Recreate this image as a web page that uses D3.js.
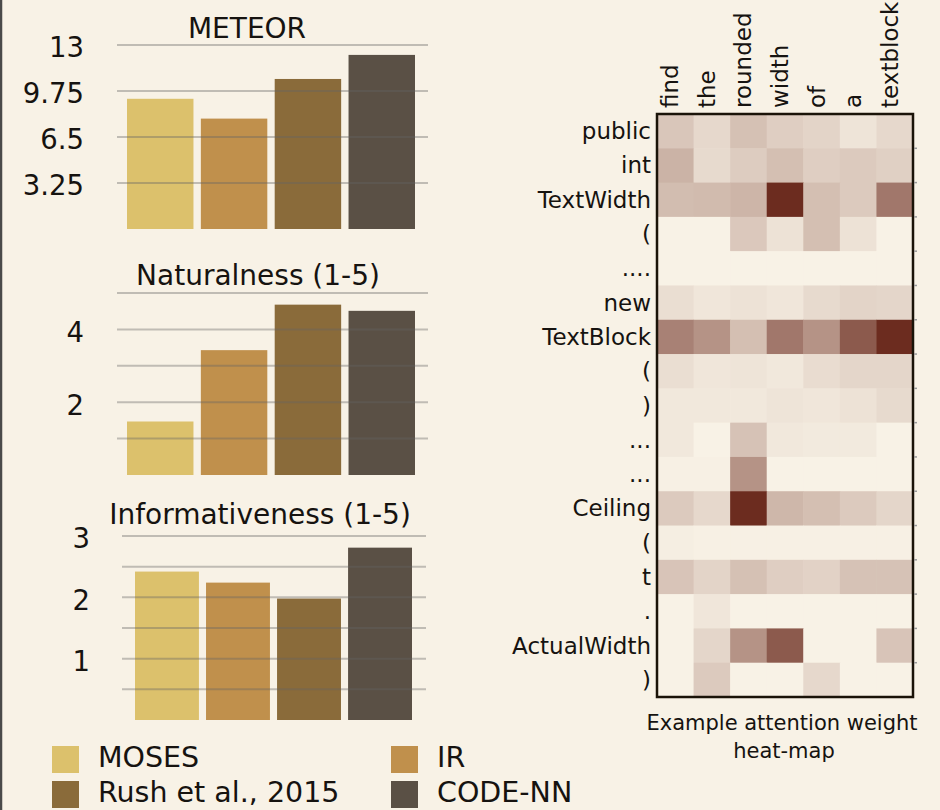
<!DOCTYPE html>
<html>
<head>
<meta charset="utf-8">
<script src="https://d3js.org/d3.v7.min.js"></script>
<style>
  body { margin: 0; background: #f8f2e6; }
  svg { display: block; }
  text { font-family: 'DejaVu Sans', sans-serif; fill: #161310; }
</style>
</head>
<body>
<svg width="940" height="810"></svg>
<script>
// bar chart data
const methods = ['MOSES', 'IR', 'Rush et al., 2015', 'CODE-NN'];
const methodColors = ['#dcc16c', '#c0904c', '#8a6b3a', '#5a5045'];
const meteor = [9.2, 7.8, 10.6, 12.3];
const naturalness = [1.47, 3.43, 4.68, 4.51];
const informativeness = [2.42, 2.24, 1.98, 2.81];

const meteorGrid = [3.25, 6.5, 9.75, 13];
const meteorLabels = [3.25, 6.5, 9.75, 13];
const naturalGrid = [1, 2, 3, 4, 5];
const naturalLabels = [2, 4];
const informGrid = [0.5, 1, 1.5, 2, 2.5, 3];
const informLabels = [1, 2, 3];

// heat-map data
const nlWords = ['find', 'the', 'rounded', 'width', 'of', 'a', 'textblock'];
const codeTokens = ['public', 'int', 'TextWidth', '(', '....', 'new', 'TextBlock', '(', ')',
  '...', '...', 'Ceiling', '(', 't', '.', 'ActualWidth', ')'];
const attention = [
  [0.22, 0.13, 0.25, 0.18, 0.15, 0.07, 0.13],
  [0.32, 0.12, 0.19, 0.26, 0.18, 0.20, 0.17],
  [0.27, 0.28, 0.31, 1.00, 0.26, 0.20, 0.62],
  [0.00, 0.00, 0.21, 0.08, 0.26, 0.08, 0.00],
  [0.00, 0.00, 0.00, 0.00, 0.00, 0.00, 0.00],
  [0.10, 0.06, 0.08, 0.06, 0.12, 0.15, 0.14],
  [0.57, 0.48, 0.26, 0.62, 0.48, 0.77, 1.00],
  [0.10, 0.06, 0.07, 0.05, 0.11, 0.14, 0.14],
  [0.05, 0.05, 0.05, 0.07, 0.06, 0.08, 0.12],
  [0.05, 0.00, 0.24, 0.05, 0.04, 0.04, 0.00],
  [0.01, 0.01, 0.48, 0.00, 0.00, 0.00, 0.00],
  [0.20, 0.13, 1.00, 0.30, 0.26, 0.20, 0.14],
  [0.02, 0.01, 0.01, 0.01, 0.01, 0.01, 0.01],
  [0.23, 0.15, 0.25, 0.18, 0.16, 0.24, 0.24],
  [0.00, 0.06, 0.00, 0.00, 0.00, 0.00, 0.00],
  [0.00, 0.14, 0.48, 0.77, 0.00, 0.00, 0.23],
  [0.00, 0.20, 0.00, 0.00, 0.13, 0.00, 0.00]
];

const svg = d3.select('svg');

svg.append('rect').
  attr('width', 940).
  attr('height', 810).
  attr('fill', '#f8f2e6');

// thin frame line on the left edge
svg.append('line').
  attr('x1', 1).attr('x2', 1).
  attr('y1', 0).attr('y2', 810).
  attr('stroke', '#4a4a4a').
  attr('stroke-width', 2.5);

function drawPanel(p) {
  const x = d3.scaleBand().
    domain(methods).
    range(p.barRange).
    paddingInner(0.1);

  const y = d3.scaleLinear().
    domain(p.domain).
    range(p.yRange);

  const g = svg.append('g').attr('class', 'panel');

  g.append('g').
    selectAll('rect').
    data(p.values).
    enter().append('rect').
    attr('x', (d, i) => x(methods[i])).
    attr('y', d => y(d)).
    attr('width', x.bandwidth()).
    attr('height', d => y(0) - y(d)).
    attr('fill', (d, i) => methodColors[i]);

  g.append('g').
    selectAll('line').
    data(p.grid).
    enter().append('line').
    attr('x1', p.gridRange[0]).
    attr('x2', p.gridRange[1]).
    attr('y1', d => y(d)).
    attr('y2', d => y(d)).
    attr('stroke', '#646464').
    attr('stroke-opacity', 0.38).
    attr('stroke-width', 2);

  g.append('g').
    selectAll('text').
    data(p.labels).
    enter().append('text').
    attr('x', p.labelX).
    attr('y', d => y(d)).
    attr('dy', '0.45em').
    attr('text-anchor', 'end').
    attr('font-size', 27.5).
    text(d => d);

  g.append('text').
    attr('x', p.titleX).
    attr('y', p.titleY).
    attr('text-anchor', 'middle').
    attr('font-size', 28).
    text(p.title);
}

drawPanel({
  title: 'METEOR', titleX: 247, titleY: 38,
  values: meteor, grid: meteorGrid, labels: meteorLabels,
  domain: [0, 13], yRange: [229, 45],
  barRange: [127, 415], gridRange: [117, 428], labelX: 84
});

drawPanel({
  title: 'Naturalness (1-5)', titleX: 258, titleY: 285,
  values: naturalness, grid: naturalGrid, labels: naturalLabels,
  domain: [0, 5], yRange: [475, 293],
  barRange: [127, 415], gridRange: [117, 428], labelX: 84
});

drawPanel({
  title: 'Informativeness (1-5)', titleX: 260, titleY: 524,
  values: informativeness, grid: informGrid, labels: informLabels,
  domain: [0, 3], yRange: [720, 536],
  barRange: [135, 412], gridRange: [122, 426], labelX: 90
});

// legend (second row kept just inside the bottom edge)
const legend = svg.append('g').
  attr('class', 'legend').
  selectAll('g').
  data(methods).
  enter().append('g').
  attr('transform', (d, i) => `translate(${i % 2 === 0 ? 52 : 391}, ${i < 2 ? 746 : 781})`);

legend.append('rect').
  attr('width', 27).
  attr('height', 27).
  attr('fill', (d, i) => methodColors[i]);

legend.append('text').
  attr('x', 46).
  attr('y', 21).
  attr('font-size', 28.5).
  text(d => d);

// attention heat-map
const hx = d3.scaleBand().
  domain(d3.range(nlWords.length)).
  range([657, 913]);

const hy = d3.scaleBand().
  domain(d3.range(codeTokens.length)).
  range([114, 697]);

const color = d3.scaleLinear().
  domain([0, 1]).
  range(['#f8f2e6', '#6c2c1f']);

const heat = svg.append('g').attr('class', 'heatmap');

heat.selectAll('g.row').
  data(attention).
  enter().append('g').
  attr('class', 'row').
  selectAll('rect').
  data((row, r) => row.map((v, c) => ({ r, c, v }))).
  enter().append('rect').
  attr('x', d => hx(d.c)).
  attr('y', d => hy(d.r)).
  attr('width', hx.bandwidth() + 0.5).
  attr('height', hy.bandwidth() + 0.5).
  attr('fill', d => color(d.v));

heat.append('rect').
  attr('x', 657).
  attr('y', 114).
  attr('width', 913 - 657).
  attr('height', 697 - 114).
  attr('fill', 'none').
  attr('stroke', '#1a1308').
  attr('stroke-width', 2.5);

// little tick dots on the right edge
heat.selectAll('line.tick').
  data(d3.range(1, codeTokens.length)).
  enter().append('line').
  attr('class', 'tick').
  attr('x1', 914).
  attr('x2', 917).
  attr('y1', d => hy(d)).
  attr('y2', d => hy(d)).
  attr('stroke', '#9a9a9a').
  attr('stroke-width', 1.5);

heat.selectAll('text.rowlabel').
  data(codeTokens).
  enter().append('text').
  attr('class', 'rowlabel').
  attr('x', 651).
  attr('y', (d, i) => hy(i) + hy.bandwidth() / 2).
  attr('dy', '0.35em').
  attr('text-anchor', 'end').
  attr('font-size', 23).
  text(d => d);

heat.selectAll('text.collabel').
  data(nlWords).
  enter().append('text').
  attr('class', 'collabel').
  attr('transform', (d, i) => `translate(${hx(i) + hx.bandwidth() / 2 - 5}, 108) rotate(-90)`).
  attr('dy', '0.35em').
  attr('font-size', 23).
  text(d => d);

heat.append('text').
  attr('x', 782).
  attr('y', 730).
  attr('text-anchor', 'middle').
  attr('font-size', 21).
  text('Example attention weight');

heat.append('text').
  attr('x', 784).
  attr('y', 758).
  attr('text-anchor', 'middle').
  attr('font-size', 21).
  text('heat-map');
</script>
</body>
</html>
